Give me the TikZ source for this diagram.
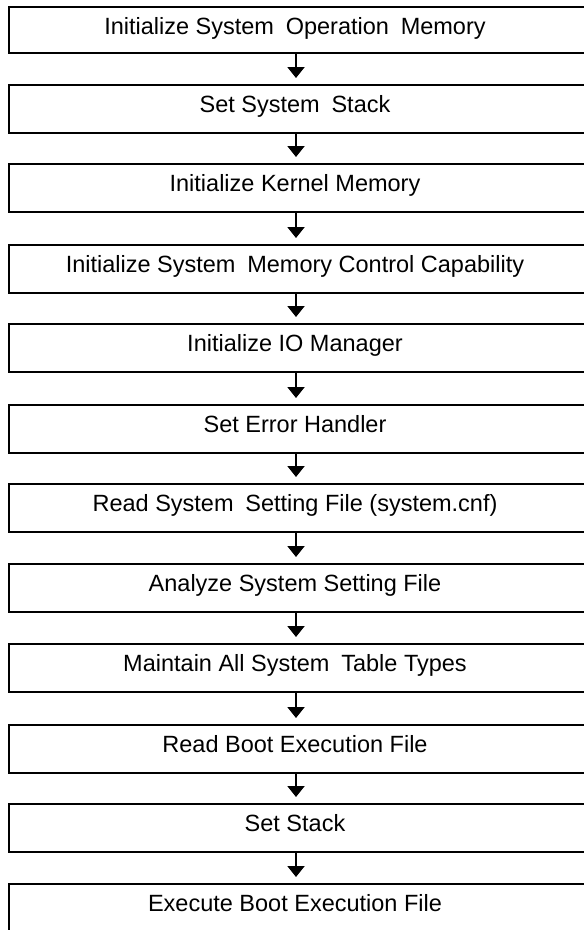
\documentclass[tikz,border=0pt]{standalone}
\usepackage{fontspec}
\setmainfont{Liberation Sans}
\usetikzlibrary{arrows.meta}
\tikzset{
  stepbox/.style={draw=black, line width=2pt, rectangle, inner sep=0pt, outer sep=0pt,
    minimum width=600pt, anchor=north west},
  steplabel/.style={anchor=base, inner sep=0pt, font=\fontsize{23.5}{27}\selectfont},
  flow/.style={line width=2pt, -{Triangle[width=17pt,length=11pt]}},
}
\newcommand{\wgap}{\hspace{0.5em}}
\begin{document}
\begin{tikzpicture}[x=1pt, y=-1pt]
  \useasboundingbox (0,0) rectangle (584,930);
  \clip (0,0) rectangle (584,930);
  \fill[white] (0,0) rectangle (584,930);
  % boxes: top edge, height
  \node[stepbox, minimum height=45.5pt] (b1)  at (9,7)   {};
  \node[stepbox, minimum height=48pt]   (b2)  at (9,85)  {};
  \node[stepbox, minimum height=48pt]   (b3)  at (9,164) {};
  \node[stepbox, minimum height=48pt]   (b4)  at (9,245) {};
  \node[stepbox, minimum height=48pt]   (b5)  at (9,324) {};
  \node[stepbox, minimum height=48pt]   (b6)  at (9,405) {};
  \node[stepbox, minimum height=48pt]   (b7)  at (9,484) {};
  \node[stepbox, minimum height=48pt]   (b8)  at (9,564) {};
  \node[stepbox, minimum height=48pt]   (b9)  at (9,644) {};
  \node[stepbox, minimum height=48pt]   (b10) at (9,725) {};
  \node[stepbox, minimum height=48pt]   (b11) at (9,804) {};
  \node[stepbox, minimum height=48pt]   (b12) at (9,884) {};
  % labels
  \node[steplabel] (t1)  at (295,34)  {Initialize System\wgap Operation\wgap Memory};
  \node[steplabel] (t2)  at (295,112) {Set System\wgap Stack};
  \node[steplabel] (t3)  at (295,191) {Initialize Kernel Memory};
  \node[steplabel] (t4)  at (295,272) {Initialize System\wgap Memory Control Capability};
  \node[steplabel] (t5)  at (295,351) {Initialize IO Manager};
  \node[steplabel] (t6)  at (295,432) {Set Error Handler};
  \node[steplabel] (t7)  at (295,511) {Read System\wgap Setting File (system.cnf)};
  \node[steplabel] (t8)  at (295,591) {Analyze System Setting File};
  \node[steplabel] (t9)  at (295,671) {Maintain All System\wgap Table Types};
  \node[steplabel] (t10) at (295,752) {Read Boot Execution File};
  \node[steplabel] (t11) at (295,831) {Set Stack};
  \node[steplabel] (t12) at (295,911) {Execute Boot Execution File};
  % connectors
  \foreach \a/\b in {1/2,2/3,3/4,4/5,5/6,6/7,7/8,8/9,9/10,10/11,11/12}{
    \draw[flow] (296,0 |- b\a.south) -- ([yshift=7pt]296,0 |- b\b.north);
  }
\end{tikzpicture}
\end{document}
